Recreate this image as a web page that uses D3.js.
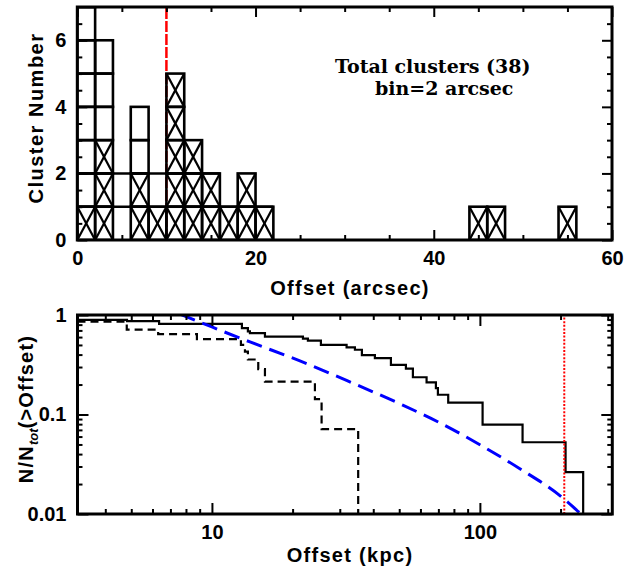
<!DOCTYPE html>
<html>
<head>
<meta charset="utf-8">
<script src="https://cdn.jsdelivr.net/npm/d3@7"></script>
<style>
  html, body { margin: 0; padding: 0; background: #fff; }
  svg { display: block; }
  text { font-family: "Liberation Sans", Arial, sans-serif; font-weight: bold; fill: #000; }
  text.serif { font-family: "DejaVu Serif", "Liberation Serif", serif; }
</style>
</head>
<body>
<div id="chart"></div>
<script>
'use strict';

const W = 636, H = 570;

// ---- top panel: offset histogram (arcsec), bin = 2 ----
const BIN_WIDTH   = 2;
const binStarts   = [0, 2, 4, 6, 8, 10, 12, 14, 16, 18, 20, 44, 46, 54];
const binTotals   = [10, 6, 0, 4, 1, 5, 3, 2, 1, 2, 1, 1, 1, 1];
const binCrossed  = [1, 3, 0, 2, 1, 5, 3, 2, 1, 2, 1, 1, 1, 1];
// extra level lines running across the low bins
const stepLevels  = [1, 2];
const stepEnds    = [22, 16];
const arcsecMark  = 10;
const histXMajor  = [0, 20, 40, 60];
const histXMinor  = [5, 10, 15, 25, 30, 35, 45, 50, 55];
const histYMajor  = [0, 2, 4, 6];
const histYMinor  = [0.5, 1, 1.5, 2.5, 3, 3.5, 4.5, 5, 5.5, 6.5];

// ---- bottom panel: cumulative fraction N/Ntot(>Offset) vs offset (kpc) ----
const ALL_TOTAL   = 38;
const allStart    = 34;
const allDrops    = [4.82, 6.35, 12.94, 13.62, 13.86, 15.77, 21.86, 22.81, 25.51, 31.81, 34.17,
                     36.28, 40.56, 46.56, 52.95, 56.23, 63.25, 68.52, 69.71, 76.17, 102.35, 144.3,
                     208.8, 242.9];
const allCounts   = [33, 31, 28, 26, 25, 23, 22, 21, 19, 18, 17, 15, 14, 12, 11, 9, 8, 7, 6, 5, 3, 2, 1, 0];
const SUB_TOTAL   = 14;
const subStart    = 12;
const subDrops    = [4.81, 6.3, 8.79, 12.83, 13.28, 13.62, 14.89, 15.77, 24.23, 25.66, 35.14];
const subCounts   = [10, 9, 8, 7, 6, 5, 4, 3, 2, 1, 0];
const modelKpc    = [7.6, 10, 13.87, 21.3, 32.7, 50.3, 70.9, 100, 141, 198.9, 238.2];
const modelFrac   = [1.023, 0.758, 0.536, 0.346, 0.213, 0.128, 0.0825, 0.0497, 0.0285, 0.0153, 0.01];
const kpcMark     = 206.5;
const cumXMajor   = [10, 100];
const cumXMinor   = [4, 5, 6, 7, 8, 9, 20, 30, 40, 50, 60, 70, 80, 90, 200, 300];
const cumYMajor   = [1, 0.1, 0.01];
const cumYLabels  = ['1', '0.1', '0.01'];
const cumYMinor   = [0.02, 0.03, 0.04, 0.05, 0.06, 0.07, 0.08, 0.09, 0.2, 0.3, 0.4, 0.5, 0.6, 0.7, 0.8, 0.9];

const TOP = { left: 77.3, right: 612, top: 7, bottom: 240 };
const BOT = { left: 77.5, right: 612.3, top: 315, bottom: 514 };

const svg = d3.select('#chart').append('svg').attr('width', W).attr('height', H);
const defs = svg.append('defs');
[['clip-top', TOP], ['clip-bot', BOT]].forEach(([id, b]) => {
  defs.append('clipPath').attr('id', id)
    .append('rect')
    .attr('x', b.left).attr('y', b.top)
    .attr('width', b.right - b.left).attr('height', b.bottom - b.top);
});

// ticks on all four sides, labels on bottom/left only
function drawFrame(box, x, y, opt) {
  const g = svg.append('g');
  const styleTicks = sel => {
    sel.select('.domain').remove();
    sel.selectAll('.tick line').attr('stroke', '#000').attr('stroke-width', 2);
    sel.selectAll('.tick text').attr('font-size', '20px').attr('fill', '#000')
      .attr('font-family', '"Liberation Sans", Arial, sans-serif').attr('font-weight', 'bold');
  };
  const sides = [
    [d3.axisBottom, `translate(0,${box.bottom})`, x, opt.xMajor, opt.xMinor, opt.xFmt],
    [d3.axisTop,    `translate(0,${box.top})`,    x, opt.xMajor, opt.xMinor, null],
    [d3.axisLeft,   `translate(${box.left},0)`,   y, opt.yMajor, opt.yMinor, opt.yFmt],
    [d3.axisRight,  `translate(${box.right},0)`,  y, opt.yMajor, opt.yMinor, null],
  ];
  sides.forEach(([axisFn, tr, sc, major, minor, fmt]) => {
    g.append('g').attr('transform', tr)
      .call(axisFn(sc).tickValues(minor).tickSize(-opt.minorLen).tickFormat(''))
      .call(styleTicks);
    g.append('g').attr('transform', tr)
      .call(axisFn(sc).tickValues(major).tickSize(-opt.majorLen).tickPadding(opt.pad)
        .tickFormat(fmt || ''))
      .call(styleTicks);
  });
  g.append('rect')
    .attr('x', box.left).attr('y', box.top)
    .attr('width', box.right - box.left).attr('height', box.bottom - box.top)
    .attr('fill', 'none').attr('stroke', '#000').attr('stroke-width', 3);
}

// ================= top panel =================
const xA = d3.scaleLinear().domain([0, 60]).range([TOP.left, TOP.right]);
const yA = d3.scaleLinear().domain([0, 7]).range([TOP.bottom, TOP.top]);

const topG = svg.append('g').attr('clip-path', 'url(#clip-top)');

topG.append('line')
  .attr('x1', xA(arcsecMark)).attr('x2', xA(arcsecMark))
  .attr('y1', yA(0)).attr('y2', yA(7))
  .attr('stroke', '#ff0000').attr('stroke-width', 2.5)
  .attr('stroke-dasharray', '11,2');

const cells = [];
binStarts.forEach((b, i) => {
  for (let j = 0; j < binTotals[i]; j++) {
    cells.push({ x0: b, x1: b + BIN_WIDTH, y0: j, y1: j + 1, crossed: j < binCrossed[i] });
  }
});

stepLevels.forEach((lv, i) => {
  topG.append('line')
    .attr('x1', xA(0)).attr('x2', xA(stepEnds[i]))
    .attr('y1', yA(lv)).attr('y2', yA(lv))
    .attr('stroke', '#000').attr('stroke-width', 2.6);
});

const cellG = topG.selectAll('g.cell').data(cells).join('g').attr('class', 'cell');
cellG.append('rect')
  .attr('x', d => xA(d.x0)).attr('y', d => yA(d.y1))
  .attr('width', d => xA(d.x1) - xA(d.x0)).attr('height', d => yA(d.y0) - yA(d.y1))
  .attr('fill', 'none').attr('stroke', '#000').attr('stroke-width', 2.6);
cellG.filter(d => d.crossed).each(function (d) {
  const c = d3.select(this);
  c.append('line')
    .attr('x1', xA(d.x0)).attr('y1', yA(d.y0)).attr('x2', xA(d.x1)).attr('y2', yA(d.y1));
  c.append('line')
    .attr('x1', xA(d.x0)).attr('y1', yA(d.y1)).attr('x2', xA(d.x1)).attr('y2', yA(d.y0));
  c.selectAll('line').attr('stroke', '#000').attr('stroke-width', 2.2);
});

drawFrame(TOP, xA, yA, {
  xMajor: histXMajor, xMinor: histXMinor, yMajor: histYMajor, yMinor: histYMinor,
  xFmt: d3.format('d'), yFmt: d3.format('d'), majorLen: 10, minorLen: 5, pad: 11,
});

svg.append('text')
  .attr('x', 350).attr('y', 295)
  .attr('text-anchor', 'middle').attr('font-size', '20px').attr('letter-spacing', '1.3px')
  .text('Offset (arcsec)');

svg.append('text')
  .attr('transform', 'translate(43,118) rotate(-90)')
  .attr('text-anchor', 'middle').attr('font-size', '20px').attr('letter-spacing', '1.5px')
  .text('Cluster Number');

svg.append('text').attr('class', 'serif')
  .attr('x', 335).attr('y', 73).attr('font-size', '19px')
  .text('Total clusters (38)');
svg.append('text').attr('class', 'serif')
  .attr('x', 375).attr('y', 95).attr('font-size', '19px')
  .text('bin=2 arcsec');

// ================= bottom panel =================
const xB = d3.scaleLog().domain([3.15, 312]).range([BOT.left, BOT.right]);
const yB = d3.scaleLog().domain([0.01, 1]).range([BOT.bottom, BOT.top]);

const botG = svg.append('g').attr('clip-path', 'url(#clip-bot)');

function stepPoints(start, total, drops, counts) {
  const pts = [[xB.domain()[0], start / total]];
  drops.forEach((d, i) => pts.push([d, counts[i] > 0 ? counts[i] / total : 0.009]));
  return pts;
}

const stepLine = d3.line()
  .x(d => xB(d[0])).y(d => yB(d[1]))
  .curve(d3.curveStepAfter);

botG.append('path')
  .attr('d', stepLine(stepPoints(allStart, ALL_TOTAL, allDrops, allCounts)))
  .attr('fill', 'none').attr('stroke', '#000').attr('stroke-width', 2.2);

botG.append('path')
  .attr('d', stepLine(stepPoints(subStart, SUB_TOTAL, subDrops, subCounts)))
  .attr('fill', 'none').attr('stroke', '#000').attr('stroke-width', 2.2)
  .attr('stroke-dasharray', '8,5');

const modelLine = d3.line()
  .x(d => xB(d[0])).y(d => yB(d[1]))
  .curve(d3.curveMonotoneX);

botG.append('path')
  .attr('d', modelLine(modelKpc.map((k, i) => [k, modelFrac[i]])))
  .attr('fill', 'none').attr('stroke', '#0000ff').attr('stroke-width', 3)
  .attr('stroke-dasharray', '16,8');

botG.append('line')
  .attr('x1', xB(kpcMark)).attr('x2', xB(kpcMark))
  .attr('y1', yB(0.01)).attr('y2', yB(1))
  .attr('stroke', '#ff0000').attr('stroke-width', 2)
  .attr('stroke-dasharray', '2,1.6');

drawFrame(BOT, xB, yB, {
  xMajor: cumXMajor, xMinor: cumXMinor, yMajor: cumYMajor, yMinor: cumYMinor,
  xFmt: d3.format('d'), yFmt: (d, i) => cumYLabels[i], majorLen: 11, minorLen: 5, pad: 11,
});

svg.append('text')
  .attr('x', 350).attr('y', 562)
  .attr('text-anchor', 'middle').attr('font-size', '20px').attr('letter-spacing', '1.3px')
  .text('Offset (kpc)');

const yLab = svg.append('text')
  .attr('transform', 'translate(33,409) rotate(-90)')
  .attr('text-anchor', 'middle').attr('font-size', '20px').attr('letter-spacing', '1.2px');
yLab.append('tspan').text('N/N');
yLab.append('tspan').attr('dy', 5).attr('font-size', '13px').attr('font-style', 'italic')
  .attr('letter-spacing', '0px').text('tot');
yLab.append('tspan').attr('dy', -5).text('(>Offset)');
</script>
</body>
</html>
